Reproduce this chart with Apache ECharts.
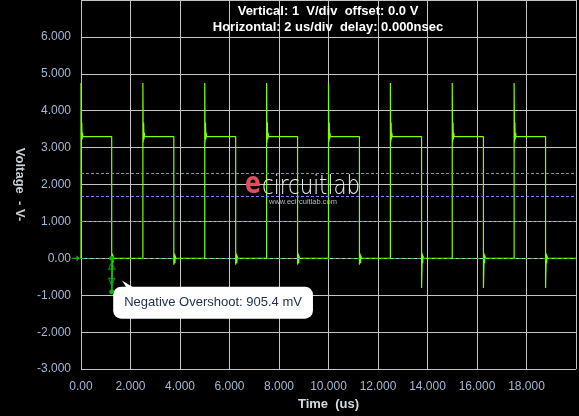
<!DOCTYPE html>
<html><head><meta charset="utf-8">
<script src="https://cdn.jsdelivr.net/npm/echarts@6/dist/echarts.min.js"></script>
<style>html,body{margin:0;padding:0;background:#000;}#c{width:579px;height:416px;}</style>
</head><body><div id="c"></div>
<script>
// ---- data ----
const titleLines = ['Vertical: 1  V/div  offset: 0.0 V', 'Horizontal: 2 us/div  delay: 0.000nsec'];
const xName = 'Time  (us)';
const yName = 'Voltage  - V-';
const riseTimes   = [0, 2.5, 5.0, 7.5, 10.0, 12.5, 15.0, 17.5];
const fallTimes   = [1.24, 3.75, 6.25, 8.75, 11.25, 13.76, 16.26, 18.77];
const peakVolts   = [4.75, 4.75, 4.75, 4.75, 4.75, 4.75, 4.75, 4.75];
const ringLowV    = [3.14, 3.14, 3.14, 3.14, 3.14, 3.14, 3.14, 3.14];
const ringHighV   = [3.68, 3.68, 3.68, 3.68, 3.68, 3.68, 3.68, 3.68];
const highVolts   = [3.3, 3.3, 3.3, 3.3, 3.3, 3.3, 3.3, 3.3];
const underVolts  = [-0.905, -0.17, -0.17, -0.17, -0.17, -0.8, -0.8, -0.8];
const fallRingV   = [0.13, 0.13, 0.13, 0.13, 0.13, 0.13, 0.13, 0.13];
const thresholdVolts = [2.3, 1.67, 1.0];
const measureT = 1.24;
const measurePoints = [0, -0.905];
const measureArrows = [-0.195, -0.636];
const measureLabel = 'Negative Overshoot: 905.4 mV';

// ---- build waveform vertices from the read values ----
const wave = [];
for (let i = 0; i < riseTimes.length; i++) {
  const t0 = riseTimes[i], tf = fallTimes[i];
  wave.push([t0, 0]);
  wave.push([t0, peakVolts[i]]);
  wave.push([t0 + 0.015, ringLowV[i]]);
  wave.push([t0 + 0.03, ringHighV[i]]);
  wave.push([t0 + 0.045, ringLowV[i] + 0.08]);
  wave.push([t0 + 0.06, highVolts[i] + 0.1]);
  wave.push([t0 + 0.075, highVolts[i]]);
  wave.push([tf, highVolts[i]]);
  wave.push([tf, underVolts[i]]);
  wave.push([tf + 0.03, fallRingV[i]]);
  wave.push([tf + 0.045, -fallRingV[i]]);
  wave.push([tf + 0.06, fallRingV[i] * 0.6]);
  wave.push([tf + 0.075, 0]);
}
wave.push([20, 0]);

const GRID = '#c4c4c4';
const LBL = '#a4b8d4';
const FONT = 'Liberation Sans';

const chart = echarts.init(document.getElementById('c'));
chart.setOption({
  animation: false,
  backgroundColor: '#000',
  grid: { left: 81, right: 3, top: 0, bottom: 42, containLabel: false },
  graphic: [
    { type: 'text', x: 328, y: 5, style: { text: titleLines[0], align: 'center', verticalAlign: 'top', fill: '#fff', font: 'bold 13px "Liberation Sans"' }, z: 100 },
    { type: 'text', x: 328, y: 21, style: { text: titleLines[1], align: 'center', verticalAlign: 'top', fill: '#fff', font: 'bold 13px "Liberation Sans"' }, z: 100 },
    { type: 'text', x: 245, y: 200, scaleX: 0.78, style: { text: 'e', align: 'left', verticalAlign: 'bottom', fill: '#e0505c', font: 'bold 30px "DejaVu Sans"' }, z: 50 },
    { type: 'text', x: 262, y: 200, scaleX: 0.82, style: { text: 'circuitlab', align: 'left', verticalAlign: 'bottom', fill: '#f0f0f0', font: '200 26px "DejaVu Sans"' }, z: 50 },
    { type: 'text', x: 303, y: 202, style: { text: 'www.ecircuitlab.com', align: 'center', verticalAlign: 'middle', fill: '#b8b8b8', font: '7.5px "Liberation Sans"' }, z: 50 }
  ],
  xAxis: {
    type: 'value', min: 0, max: 20, interval: 2,
    name: xName, nameLocation: 'middle', nameGap: 27,
    nameTextStyle: { color: '#d4dae2', fontWeight: 'bold', fontSize: 13, fontFamily: FONT },
    axisLine: { show: true, lineStyle: { color: GRID, width: 1 } },
    axisTick: { show: true, length: 8, lineStyle: { color: GRID } },
    axisLabel: { color: LBL, fontSize: 12, fontFamily: FONT, margin: 12,
      formatter: v => v === 20 ? '' : (v === 0 ? '0.00' : v.toFixed(3)) },
    splitLine: { show: true, lineStyle: { color: GRID, width: 1 } }
  },
  yAxis: {
    type: 'value', min: -3, max: 7, interval: 1,
    name: yName, nameLocation: 'middle', nameGap: 51, nameRotate: -90,
    nameTextStyle: { color: '#c8d0d8', fontWeight: 'bold', fontSize: 13, fontFamily: FONT },
    axisLine: { show: true, lineStyle: { color: GRID, width: 1 } },
    axisTick: { show: false },
    axisLabel: { color: LBL, fontSize: 12, fontFamily: FONT, margin: 10,
      formatter: v => v === 7 ? '' : (v === 0 ? '0.00' : v.toFixed(3)) },
    splitLine: { show: true, lineStyle: { color: GRID, width: 1 } }
  },
  series: [
    {
      type: 'line', data: [], silent: true, z: 1,
      markLine: {
        silent: true, symbol: 'none', label: { show: false },
        data: thresholdVolts.map(v => ({ yAxis: v, lineStyle: { color: '#8080ff', type: [3, 2], width: 1 } }))
          .concat([{ yAxis: 0, lineStyle: { color: '#30c030', type: [3, 3], width: 1 } }])
      }
    },
    {
      type: 'line', data: wave, showSymbol: false, z: 3,
      lineStyle: { color: '#80ff00', width: 1.2 },
      itemStyle: { color: '#80ff00' }
    },
    {
      type: 'line', data: measurePoints.map(v => [measureT, v]), z: 5,
      symbol: 'circle', symbolSize: 5, showSymbol: true,
      lineStyle: { color: '#00b400', width: 1.5 }, itemStyle: { color: '#00b400' },
      markPoint: {
        silent: true,
        data: [
          { coord: [measureT, measurePoints[1]], symbol: 'path://M0,0 L5,8 L13,8 Z', symbolSize: [13, 8],
            symbolOffset: [16.8, -7.3], itemStyle: { color: '#fff' }, label: { show: false } },
          { coord: [measureT, measurePoints[1]], symbol: 'circle', symbolSize: 1,
            itemStyle: { color: 'rgba(0,0,0,0)' },
            label: { show: true, formatter: measureLabel, position: [2, -4.6],
              backgroundColor: '#fff', borderRadius: 8, padding: [9, 11, 9, 11],
              color: '#23314f', fontSize: 13, fontFamily: FONT, lineHeight: 14 } }
        ]
      }
    },
    {
      type: 'scatter', z: 6, clip: false,
      data: measureArrows.map((v, i) => ({ value: [measureT, v], symbolRotate: i === 0 ? 0 : 180 })),
      symbol: 'triangle', symbolSize: [6, 7],
      itemStyle: { color: 'rgba(0,0,0,0)', borderColor: '#00b400', borderWidth: 1.2 }
    },
    {
      type: 'scatter', z: 6, clip: false,
      data: [[0, 0]],
      symbol: 'path://M0,2.5 L5,2.5 L5,0 L8,3 L5,6 L5,3.5 L0,3.5 Z', symbolSize: [8, 6],
      symbolOffset: [-5.5, 0],
      itemStyle: { color: '#00ff00' }
    }
  ]
});
</script>
</body></html>
